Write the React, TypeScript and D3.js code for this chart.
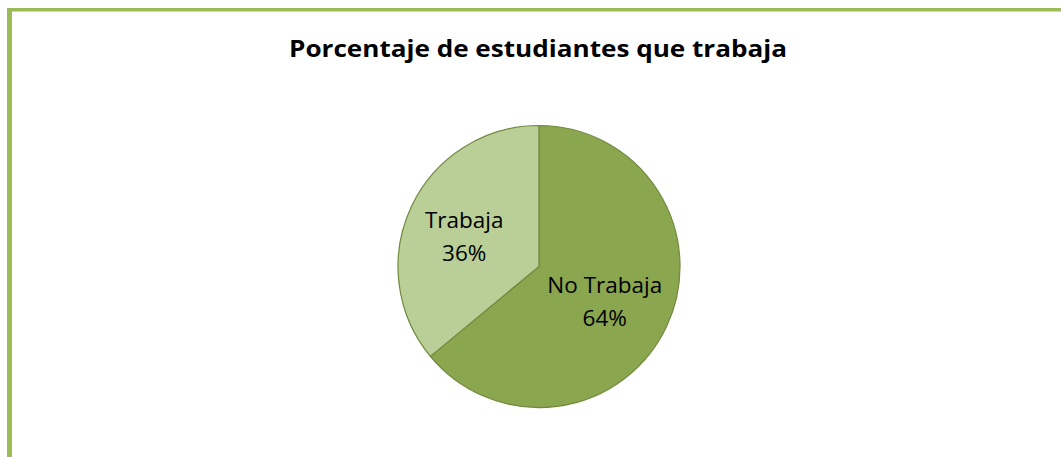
import React, { useEffect } from "react";
import * as d3 from "d3";

const categories = ["No Trabaja", "Trabaja"];
const values = [64, 36];
const percentLabels = ["64%", "36%"];
const sliceColors = ["#8aa64f", "#b9cf97"];
const title = "Porcentaje de estudiantes que trabaja";

const W = 1061;
const H = 457;
const cx = 539;
const cy = 266.5;
const R = 141;
const FONT = "'Open Sans', Lato, sans-serif";

export default function App() {
  useEffect(() => {
    document.body.style.margin = "0";
  }, []);

  const pie = d3.pie<number>().sort(null).value((d) => d)(values);
  const arc = d3.arc<d3.PieArcDatum<number>>().innerRadius(0).outerRadius(R);
  const labelArc = d3.arc<d3.PieArcDatum<number>>().innerRadius(76).outerRadius(76);

  return (
    <svg width={W} height={H} style={{ display: "block" }}>
      <rect x={0} y={0} width={W} height={H} fill="#ffffff" />
      <rect x={7} y={8} width={W - 7} height={3.5} fill="#9bbb59" />
      <rect x={7} y={8} width={5} height={H - 8} fill="#9bbb59" />
      <text
        x={cx - 1}
        y={57}
        textAnchor="middle"
        fontFamily={FONT}
        fontWeight="bold"
        fontSize={24}
        textLength={498}
        lengthAdjust="spacingAndGlyphs"
        fill="#000"
      >
        {title}
      </text>
      <g transform={`translate(${cx},${cy})`}>
        {pie.map((d, i) => (
          <path key={i} d={arc(d) || ""} fill={sliceColors[i]} stroke="#71893e" strokeWidth={1.2} />
        ))}
        {pie.map((d, i) => {
          const [lx, ly] = labelArc.centroid(d);
          const dx = i === 1 ? -6 : -3;
          return (
            <text key={"l" + i} textAnchor="middle" fontFamily={FONT} fontSize={22.5} fill="#000">
              <tspan x={lx + dx} y={ly - 6}>{categories[i]}</tspan>
              <tspan x={lx + dx} y={ly + 27}>{percentLabels[i]}</tspan>
            </text>
          );
        })}
      </g>
    </svg>
  );
}
